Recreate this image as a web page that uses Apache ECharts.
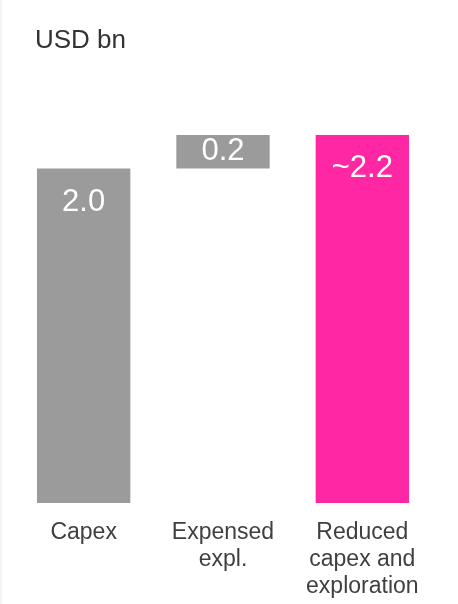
<!DOCTYPE html>
<html><head><meta charset="utf-8">
<script src="https://cdn.jsdelivr.net/npm/echarts@6/dist/echarts.min.js"></script>
<style>html,body{margin:0;padding:0;background:#fff}#c{width:458px;height:604px}</style>
</head><body><div id="c"></div>
<script>
var categories = ['Capex', 'Expensed\nexpl.', 'Reduced\ncapex and\nexploration'];
var baseValues = [0, 2.0, 0];
var barValues = [2.0, 0.2, 2.2];
var barLabels = ['2.0', '0.2', '~2.2'];
var barColors = ['#9b9b9b', '#9b9b9b', '#ff27a4'];
var unitLabel = 'USD bn';

var chart = echarts.init(document.getElementById('c'));
chart.setOption({
  animation: false,
  title: {text: unitLabel, left: 30, top: 23, textStyle: {fontFamily: 'Liberation Sans', fontSize: 26, fontWeight: 'normal', color: '#333'}},
  grid: {left: 14, right: 26, top: 135, bottom: 101},
  xAxis: {type: 'category', data: categories, axisLine: {show: false}, axisTick: {show: false},
    axisLabel: {fontFamily: 'Liberation Sans', fontSize: 23, color: '#404040', lineHeight: 27, margin: 16, interval: 0}},
  yAxis: {type: 'value', min: 0, max: 2.2, show: false, splitLine: {show: false}},
  graphic: [{type: 'line', shape: {x1: 1, y1: 0, x2: 1, y2: 604}, style: {stroke: '#e8e8e8', lineWidth: 1}}],
  series: [
    {type: 'bar', stack: 'w', data: baseValues, barWidth: '67%', itemStyle: {color: 'transparent'}, silent: true},
    {type: 'bar', stack: 'w', barWidth: '67%',
      data: barValues.map(function (v, i) {
        return {value: v, itemStyle: {color: barColors[i]},
          label: {show: true, position: i === 1 ? 'inside' : 'insideTop', distance: i === 1 ? 0 : 18, formatter: barLabels[i]}};
      }),
      label: {color: '#fff', fontFamily: 'Liberation Sans', fontSize: 31}
    }
  ]
});
</script></body></html>
